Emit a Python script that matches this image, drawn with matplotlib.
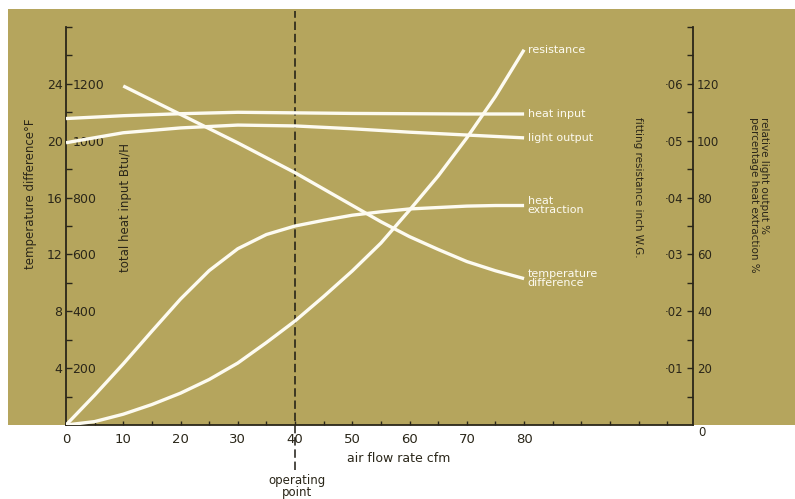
"""Air flow rate chart: temperature, heat, light output and resistance curves."""

import matplotlib

matplotlib.use("Agg")

import matplotlib.pyplot as plt
import numpy as np
from matplotlib.patches import Rectangle

# air flow rate, cfm
flow_fine = [0, 5, 10, 15, 20, 25, 30, 35, 40, 45, 50, 55, 60, 65, 70, 75, 80]
flow = [0, 10, 20, 30, 40, 50, 60, 70, 80]
flow_temp = [10, 15, 20, 25, 30, 35, 40, 45, 50, 55, 60, 65, 70, 75, 80]

# temperature difference, deg F
temperature_difference = [23.85, 22.85, 21.85, 20.85, 19.85, 18.8, 17.75, 16.6,
                          15.45, 14.3, 13.25, 12.35, 11.5, 10.85, 10.3]
# total heat input, Btu/H
heat_input = [1078, 1088, 1095, 1100, 1098, 1096, 1095, 1094, 1094]
# relative light output, %
light_output = [99.3, 102.8, 104.5, 105.5, 105.2, 104.2, 103.0, 102.0, 101.0]
# percentage heat extraction, %
heat_extraction = [0, 10.5, 21.5, 33, 44.3, 54.3, 62, 67, 70, 72, 73.8, 75, 76,
                   76.5, 77, 77.2, 77.2]
# fitting resistance, inch W.G.
resistance = [0, 0.0006, 0.0019, 0.0036, 0.0056, 0.0080, 0.0109, 0.0145, 0.0183,
              0.0226, 0.0271, 0.0320, 0.0378, 0.0438, 0.0505, 0.0578, 0.0660]

operating_point = 40

x_ticks = [0, 10, 20, 30, 40, 50, 60, 70, 80]
temp_ticks = [4, 8, 12, 16, 20, 24]
btu_ticks = [200, 400, 600, 800, 1000, 1200]
res_ticks = [0.01, 0.02, 0.03, 0.04, 0.05, 0.06]
res_labels = ["·01", "·02", "·03", "·04", "·05", "·06"]
pct_ticks = [20, 40, 60, 80, 100, 120]

KHAKI = "#b5a55d"
INK = "#2a2619"
CURVE = "#fdfbf1"

plt.rcParams["font.family"] = ["DejaVu Sans"]

W, H = 795, 499
fig = plt.figure(figsize=(W / 100, H / 100), dpi=100)
fig.patch.set_facecolor("white")
fig.add_artist(
    Rectangle((8 / W, 1 - 425 / H), 1 - 8 / W, (425 - 9) / H,
              transform=fig.transFigure, facecolor=KHAKI, edgecolor="none", zorder=0)
)

ax = fig.add_axes([66 / W, 1 - 425 / H, (693 - 66) / W, (425 - 27) / H])
ax.patch.set_visible(False)
ax.set_xlim(0, 109.5)
ax.set_ylim(0, 28)

ax_pct = ax.twinx()
ax_pct.set_ylim(0, 140)
ax_btu = ax.twinx()
ax_btu.set_ylim(0, 1400)
ax_btu.set_axis_off()
ax_res = ax.twinx()
ax_res.set_ylim(0, 0.07)
ax_res.set_axis_off()

for spine in ("top", "right"):
    ax.spines[spine].set_visible(False)
for spine in ("top", "left", "bottom"):
    ax_pct.spines[spine].set_visible(False)
for a in (ax, ax_pct):
    for spine in a.spines.values():
        spine.set_color(INK)
        spine.set_linewidth(1.3)

# x axis
ax.set_xticks(x_ticks)
ax.set_xticks([t for t in np.arange(0, 106, 5) if t not in x_ticks], minor=True)
ax.tick_params(axis="x", which="both", direction="in", length=3, width=1,
               color=INK, labelcolor=INK, labelsize=9.5, pad=5.5)

# left axis, temperature difference
ax.set_yticks(temp_ticks)
ax.set_yticks([t for t in np.arange(2, 29, 2) if t not in temp_ticks], minor=True)
ax.tick_params(axis="y", which="both", direction="in", length=4.5, width=1,
               color=INK, labelcolor=INK, labelsize=9, pad=2.5)

# left axis, heat input labels on the inner side
sec_btu = ax.secondary_yaxis(0.0, functions=(lambda t: t * 50, lambda b: b / 50))
sec_btu.set_alignment("right")
sec_btu.set_yticks(btu_ticks)
sec_btu.tick_params(axis="y", length=0, pad=4.5, labelsize=9, labelcolor=INK)
for spine in sec_btu.spines.values():
    spine.set_visible(False)

# right axis, percentage
ax_pct.set_yticks(pct_ticks)
ax_pct.set_yticks([t for t in np.arange(10, 141, 10) if t not in pct_ticks], minor=True)
ax_pct.tick_params(axis="y", which="both", direction="in", length=4.5, width=1,
                   color=INK, labelcolor=INK, labelsize=8.5, pad=3)

# right axis, resistance labels on the inner side
sec_res = ax_pct.secondary_yaxis(1.0, functions=(lambda p: p * 0.0005, lambda r: r / 0.0005))
sec_res.set_alignment("left")
sec_res.set_yticks(res_ticks, labels=res_labels)
sec_res.tick_params(axis="y", length=0, pad=7, labelsize=8.5, labelcolor=INK)
for spine in sec_res.spines.values():
    spine.set_visible(False)

ax.text(110.5, -0.5, "0", ha="left", va="center", fontsize=8.5, color=INK, clip_on=False)

# curves
line_kw = dict(color=CURVE, lw=2.4, solid_capstyle="butt", solid_joinstyle="round", zorder=3)
ax.plot(flow_temp, temperature_difference, **line_kw)
ax_btu.plot(flow, heat_input, **line_kw)
ax_pct.plot(flow, light_output, **line_kw)
ax_pct.plot(flow_fine, heat_extraction, **line_kw)
ax_res.plot(flow_fine, resistance, **line_kw)

label_kw = dict(xytext=(2.5, 0), textcoords="offset points", ha="left", va="center",
                color=CURVE, fontsize=8, linespacing=0.95)
ax_res.annotate("resistance", (flow_fine[-1], resistance[-1]), **label_kw)
ax_btu.annotate("heat input", (flow[-1], heat_input[-1]), **label_kw)
ax_pct.annotate("light output", (flow[-1], light_output[-1]), **label_kw)
ax_pct.annotate("heat\nextraction", (flow_fine[-1], heat_extraction[-1]), **label_kw)
ax.annotate("temperature\ndifference", (flow_temp[-1], temperature_difference[-1]), **label_kw)

# operating point
ax.axvline(operating_point, ymin=-0.113, ymax=1.04, clip_on=False, color="#1c1a12",
           lw=1.1, dashes=(5.5, 2.5), zorder=2)

# axis titles
fig.text(31 / W, 1 - 194 / H, "temperature difference°F", rotation=90,
         ha="center", va="center", fontsize=8.5, color=INK)
fig.text(125 / W, 1 - 208 / H, "total heat input Btu/H", rotation=90,
         ha="center", va="center", fontsize=8.5, color=INK)
fig.text(638 / W, 1 - 117 / H, "fitting resistance inch W.G.", rotation=-90,
         ha="center", va="top", fontsize=7.5, color=INK)
fig.text(759 / W, 1 - 117 / H, "relative light output %\npercentage heat extraction %",
         rotation=-90, ha="center", va="top", fontsize=7.5, color=INK,
         multialignment="left", linespacing=1.0)
fig.text(399 / W, 1 - 458 / H, "air flow rate cfm", ha="center", va="center",
         fontsize=9, color=INK)
fig.text(297 / W, 1 - 474 / H, "operating\npoint", ha="center", va="top",
         fontsize=8.5, color=INK, linespacing=0.9)

fig.savefig("out.png", dpi=100)
